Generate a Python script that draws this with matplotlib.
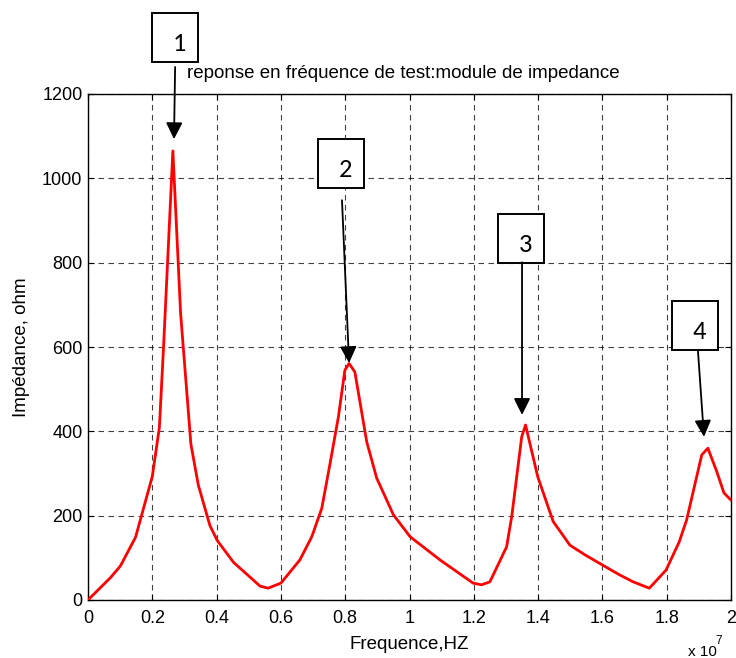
import matplotlib
matplotlib.use("Agg")
import matplotlib.pyplot as plt
from matplotlib.patches import Rectangle, FancyArrowPatch

plt.rcParams['font.family'] = ['Liberation Sans', 'DejaVu Sans']

# Frequency in units of 1e7 Hz, impedance in ohm
freq = [0.0, 0.070, 0.101, 0.148, 0.200, 0.222, 0.235, 0.264, 0.288, 0.320,
        0.343, 0.379, 0.402, 0.453, 0.500, 0.535, 0.560, 0.600, 0.659, 0.696,
        0.727, 0.753, 0.779, 0.799, 0.812, 0.830, 0.867, 0.898, 0.950, 1.002,
        1.095, 1.198, 1.224, 1.250, 1.302, 1.318, 1.349, 1.361, 1.399, 1.447,
        1.499, 1.546, 1.600, 1.655, 1.696, 1.746, 1.798, 1.839, 1.862, 1.909,
        1.928, 1.956, 1.978, 2.000]
imped = [0, 53, 81, 149, 293, 409, 600, 1065, 680, 370,
         273, 177, 141, 89, 57, 33, 28, 40, 95, 150,
         217, 324, 435, 545, 561, 541, 375, 289, 202, 150,
         95, 40, 36, 43, 126, 198, 387, 415, 292, 186,
         130, 107, 83, 59, 43, 28, 71, 138, 190, 344,
         360, 304, 254, 237]

xticks = [0, 0.2, 0.4, 0.6, 0.8, 1.0, 1.2, 1.4, 1.6, 1.8, 2.0]
xticklabels = ['0', '0.2', '0.4', '0.6', '0.8', '1', '1.2', '1.4', '1.6', '1.8', '2']
yticks = [0, 200, 400, 600, 800, 1000, 1200]

# annotations (data coords): label, box centre, arrow start, arrow tip
ann_labels = ['1', '2', '3', '4']
ann_boxes = [(0.272, 1334), (0.787, 1035), (1.347, 858), (1.888, 650)]
ann_starts = [(0.271, 1264), (0.790, 948), (1.350, 801), (1.897, 593)]
ann_tips = [(0.2675, 1093), (0.812, 562), (1.350, 439), (1.916, 387)]
box_w, box_h = 0.143, 116

fig = plt.figure(figsize=(7.36, 6.58), dpi=100)
ax = fig.add_axes([88/736, 58/658, 643/736, 506/658])

ax.plot(freq, imped, color='red', lw=2.0, zorder=3)

ax.set_xlim(0, 2)
ax.set_ylim(0, 1200)
ax.set_xticks(xticks)
ax.set_xticklabels(xticklabels)
ax.set_yticks(yticks)
ax.tick_params(direction='in', top=True, right=True, labelsize=13, length=4,
               width=0.8, colors='black')
ax.tick_params(axis='x', pad=7)
ax.tick_params(axis='y', pad=4)
ax.grid(True, color='black', linestyle=(0, (5, 4)), linewidth=0.8, alpha=0.75)
for s in ax.spines.values():
    s.set_linewidth(1.0)

ax.set_xlabel('Frequence,HZ', fontsize=13.5, labelpad=7)
ax.set_ylabel('Impédance, ohm', fontsize=13.5, labelpad=9)

fig.text(187/736, 1 - 73/658, 'reponse en fréquence de test:module de impedance',
         fontsize=13.5, va='center', ha='left')
fig.text(688/736, 1 - 652/658, 'x 10', fontsize=11, va='center', ha='left')
fig.text(715/736, 1 - 641/658, '7', fontsize=8.5, va='center', ha='left')

for lab, box, st, tip in zip(ann_labels, ann_boxes, ann_starts, ann_tips):
    rect = Rectangle((box[0] - box_w / 2, box[1] - box_h / 2), box_w, box_h,
                     fc='white', ec='black', lw=1.4, clip_on=False, zorder=5)
    ax.add_patch(rect)
    ax.text(box[0] + 0.013, box[1] - 14, lab, fontsize=19,
            family=['Carlito', 'DejaVu Sans'], ha='center', va='center',
            clip_on=False, zorder=6)
    arr = FancyArrowPatch(st, tip, arrowstyle='-|>,head_length=1.0,head_width=0.5',
                          mutation_scale=10, color='black', lw=1.3,
                          shrinkA=0, shrinkB=0, clip_on=False, zorder=5)
    ax.add_patch(arr)

fig.savefig('out.png', dpi=100)
